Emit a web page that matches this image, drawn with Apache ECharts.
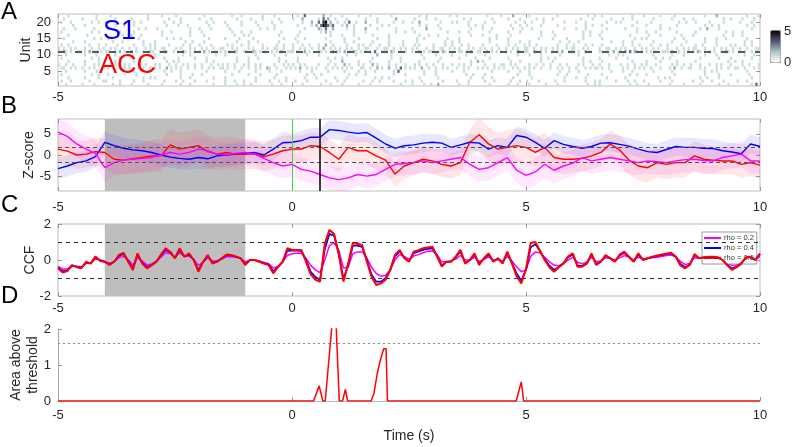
<!DOCTYPE html>
<html>
<head>
<meta charset="utf-8">
<script src="https://cdn.jsdelivr.net/npm/echarts@6/dist/echarts.min.js"></script>
<style>
  html, body { margin: 0; padding: 0; background: #fff; }
  #chart { width: 792px; height: 447px; }
</style>
</head>
<body>
<div id="chart"></div>
<script>
// ---- panel A: spike counts per unit, 0.05 s bins, top row = unit 22 ----
// each row: -5..0 s | 0..5 s | 5..10 s
const binW = 0.05;
const heatRows = [
  ["....1..... ......1... ..1....... ........1. ....1..... 1......... ..1....... ....1...1. .......1.. ..1.......",
   "..1..3.... ...2..1... .1......1. ...1...... ..1....... ....1..1.. .......1.. 1......... ...1.....1 ....2.....",
   ".1........ ...1...... ......1..1 ..1....... .....1.... 1......1.. ...1...... ......1... .2........ ....1....1"],
  ["..1....... 1.....1... ....1..... .1......1. .......1.. ..1....... 1....1.... ......1... ..1....1.. ....1.....",
   "1...2..... .1.3.2..1. ...1...... .1....1... ....2..... ..1....1.. .1........ ...1..1... .....1.... ..1....1..",
   "....1..1.. .1........ ...1....1. ......1... .1...1.... ....1..... ..1....1.. .1........ ....1..1.. ..1....1.."],
  [".1...1.... ....1..1.. 1......... ..1..1.... .....1...1 ..1....... ...1..1... .1......1. ....1..... .1...1....",
   "....1...2. .3.45.2..1 ..1.3..1.. .2....1... ...1...1.. .1..2..... ...1....1. 1....1.... ..1...1... .....1...1",
   "..1....1.. ......1... .1...1.... ....1...1. 1......1.. ...1...... .....1..1. ..1.....1. ....1..... .1....1..."],
  ["......1... .1........ ....1...1. ..1....... ......1... .1...1.... ....1..... ..1.....1. .....1.... ..1.......",
   "..1.....1. 2.354313.. .1.2..1... ...1....1. .1........ ....1..1.. ..1....... .....1..1. .1........ ...1...1..",
   "1.....1... ...1...... .....1..1. ..1....... .....1.... .1.....1.. ....1..... ......1..1 ..1....... ....1..1.."],
  ["..1....1.. .....1.... .1........ ....1..1.. ..1....... ......1... 1....1.... ...1...... ......1..1 ..1.......",
   ".....1.... .21.3..2.. ...1..1... .2....1... ....1..... .1.....2.. ...1...... ......1... .1...1.... ....1...1.",
   "..1....... ......1... .1...1.... ....1..... ..1....1.. .......1.. .1........ ....1..2.. ..1....... ......1..."],
  [".1........ ....1..1.. ......1... ..1....... ....1...1. ......1... .1........ ....1...1. ..1....... .....1....",
   "...1...... ..1.2.1... ......1... .1........ ....1...1. ..1....... ......1... .1...1.... ....1..... ..1....1..",
   "......1... .1........ ....1..1.. ..1....... .......1.. .1...1.... ....1..... ..1....... .....1..1. ..1......."],
  ["....1..... ..1....... .......1.. .1...1.... ....1..... ......1... ..1....... .....1...1 .1........ ....1.....",
   "..1....... ......1... .1....1... ....1..... .1........ ....1...1. ..1....... ......1... .1.....1.. ...1......",
   "......1... ..1....... ....1..1.. .1........ ....1..... ..1....1.. ......1... .1........ ....1...1. ..1......."],
  ["..1....... .....1..1. .1........ ....1..... ......1..1 ..1....... ....1..... .1.....1.. ...1...... ......1...",
   ".1...1.... ....1..... ..1.....1. ......1... .1........ ...1..1... ......1... .1........ ....1..1.. ..1.......",
   ".....1.... .1.....1.. ....1..... ..1....... ......1..1 .1........ ...1...1.. ......1... .1...1.... ....1....."],
  ["......1... .1........ ...1...1.. ......1... .1........ ....1..1.. ..1....... ......1... .1...1.... ....1.....",
   "..1....... ......1... ..1...1... ....1..... .1.....1.. ...1...... .....1..1. .1........ ....1..... ..1....1..",
   ".1........ ....1...1. ..1....... ......1... .1...1.... ....1..... ..1.....1. ......1... .1........ ...1..1..."],
  [".1..1..... ...1...1.. 1....1.... ..1...1..1 .1.....1.. ...1..1... 1....1.... ..1.1...1. .1.....1.. ...1..1...",
   "1...1..1.. .1..2..1.. ...1....1. 1..1...1.. .1.....1.. ..1.1..... 1....1..1. ..1..1.... .1.....1.. ..1..1...1",
   ".1..1..... ...1...1.. 1....1..1. ..1....... .1...1..1. ...1...1.. 1.....1... ..1..1.... .1.....1.1 ...1..1..."],
  ["1.1..1.1.. .1..1..1.1 ..1.1..1.. 1..1...1.1 .1..11.... 1.1...1.1. .1.1..1..1 1...1.1... .1.1...1.1 ..11..1...",
   "1..1.1..1. .1.2..1.1. 1..1.1..1. .11...1..1 1..1..1.1. .1.1...1.. 1..11..1.1 .1...1.1.. 1.1..1..1. .1..1.1..1",
   "1..1..1.1. .1.1...1.1 1...1.1... .1..11..1. 1.1...1..1 .1..1.1... 1...1..1.1 .11...1... 1..1.1..1. .1..1...11"],
  ["1.21.1..11 .1.2.11.1. 11..1.2.1. .2.1..1.11 1..1.21..1 .1.21.1.1. 1.2.1..1.1 .1.1.21..1 1..21.1.1. .1.1.2..11",
   "1.1..2.1.. .11.1..2.1 1.2.1.21.1 .1.1.3..11 1.21..1.1. .1..2.1.11 1.1.21..1. .11.1.2..1 1..2.1.1.1 .1.1..21.1",
   "1..21.1.1. .1.1.2..11 1.1..2.1.. .11.1..2.1 1.2.3.21.1 .1.1.1..11 1.2..1.1.1 .1.21.1.1. 1..1.21.1. .1.1..1.11"],
  ["...1...... .1....1... ....1..... ......1... .1........ ...1..1... .......1.. .1........ ....1..... ..1....1..",
   "......1... .1........ ...1...1.. ......2... ..1....... .....1.... .1......1. ....1..... ..1....... ......1...",
   ".1....1... ....1..... ..1....... .....1...1 .1........ ....1..... ..1....1.. ......1... .1........ ...1...1.."],
  [".1........ ....1..1.. ......1... ..1....... .....1.... .1......1. ...1...... ......1... .1...1.... ....1.....",
   "..1....... .....1..1. .1........ ....1..... ..1...1... ......1... ...1...... .1......1. ....1..... ..1.......",
   "......1..1 ..1....... ....1..... .1......1. ...1...... .....1..1. .1........ ....1..... ..1....1.. ......1..."],
  ["....1..... .1.....1.. ....1..... ..1....... ......1..1 .1........ ...1..1... ......1... .1........ ....1..1..",
   "..1....... ......1... .2......1. ...1...... .1....1... ....1..... ..1....... ......1..2 .1........ ...1...1..",
   "......1... .1........ ....1..1.. ..1....... .....1.... .1.....1.. ....1..... ..1....... ......1..1 ..1......."],
  ["1..1..1... .1...1.1.. ..1.1...1. 1...1..1.. .1.1...1.. 1..1.1..1. .1...1..1. 1.1..1...1 .1..1.1... ..1...1.1.",
   "1..1.1.... .1...1..1. ..2.1...1. 1...2.1... .1..1...1. ..1.1..1.. 1...1...1. .1.1..1... ..1...1..1 1..1.1....",
   ".1..1..1.. 1...1..1.. ..1.1...1. .1...1.... 1..1..1..1 .1...1.... ..1.1..1.. 1...1...1. .1.1...1.. ..1..1...1"],
  [".11..1.1.. 1..1.1...1 .1.1..1.1. 1...1.1..1 .1.1..2.1. 1.1..1..1. .1..1.1..1 1.1..1..1. .1..1.1..2 1..1...1.1",
   ".1.2..1.1. 1...1..1.1 .1.1.1...1 1..1..2.1. .2..1.3.1. 1.1..2..1. .1..1.1... 1..1.1...1 .1.1..1.1. 1...1.1..1",
   ".1.1..1... 1..1.1..1. .1...1.1.1 1.1..1.... .1.1..1.1. 1..1...1.. .1.2..1..1 1...1.1... .1.1..1..1 1..1...1.1"],
  ["...1...... .1....1... ....1..... ..1....... .....1..1. ..1....... ...1...... .1.....1.. ....1..... 1....1....",
   "...1....1. .....1.... ..1.....1. .1...1.... ...1.3.... ......1... .1......1. ...1...... .....1.... ..1....1..",
   ".1........ ....1...1. ..1....... ......1... .1...1.... ....1..... ..1....... ......1..1 .1........ ....1....."],
  [".1........ ....1..1.. .1........ ...1...... ......1... ..1....1.. .1........ ....1..... .1....1... ...1......",
   "......1..1 ..1....... ....1..1.. .1........ ...1....1. ......1... .1........ ....1..1.. ..1....... ......1...",
   ".1........ ...1...1.. ......1... ..1....... ....1..1.. .1........ ...1...... ......1... ..1....1.. .....1...."],
  ["....1..... .1.....1.. ...1...... ......1..1 .1........ ..1...1... ......1... .1........ ....1..... ..1....1..",
   ".....1.... 1.......1. ...1...... .....1..1. .1........ ....1..... ..1....... ......1... .1...1.... ....1.....",
   "..1....... ......1... .1...1.... ....1..... ..1....... ......1..1 .1........ ....1..1.. ..1....... ......1..."],
  [".1...1.... ...1.....1 1.....1... ..1...1... .....1.... 1..1....1. ...1...... .1...1...1 ....1..... 1...1..1..",
   ".1....1... ....1....1 ..1....... 1...1..1.. ...1....1. .1...1.... ....1..... 1....1.... ..1...1... ...1...1..",
   "1....1.... ..1...1... .....1...1 .1......1. ...1..1... 1......1.. ..1....... .1...1...1 ....1..... 1...1....."],
  ["...1...... 1....1.... ...1..1... .1......1. ....1..... ..1...1... ......1... .1....1..1 ..1....... .1...1....",
   "....1..... ..1...1... .1......1. ...1...... ......1... .1....1..1 ..2....... .1...1.... ....1..... ..1...1...",
   ".1......1. ...1...... ......1..1 .1........ ....1..1.. ..1....... .1.....1.. ....1..... ..1...1... ......1.3."]
];
const unitTicks = [5, 10, 15, 20];
const unitSplit = 11;

// ---- panel B: z-scored activity, 0.2 s steps from -5 s ----
const bStep = 0.2;
const zBlue = [
  -3.2, -2.6, -1.8, -1.4, -0.4, 3.0, 2.2, 1.6, 1.2, 1.0,
  0.6, 0.0, -0.5, -0.8, -1.0, -0.6, -0.9, -0.2, 0.0, 0.2,
  0.35, 0.6, 0.0, 1.4, 2.9, 3.0, 3.4, 4.2, 4.2, 6.0,
  5.8, 5.4, 5.1, 5.3, 4.0, 2.6, 1.6, 2.2, 2.4, 2.8,
  3.0, 2.8, 1.8, 2.4, 3.0, 2.8, 1.4, 2.2, 1.8, 4.6,
  4.2, 3.0, 1.6, 3.4, 2.5, 2.0, 1.6, 2.0, 2.8, 2.9,
  2.5, 2.1, 1.4, 0.8, 0.6, 1.3, 2.0, 1.8, 1.8, 1.6,
  1.5, 1.0, 0.7, 0.3, 2.6, 2.0
];
const zRed = [
  1.4, 0.9, 0.0, 0.2, 0.8, 0.6, -1.0, -1.2, -0.9, -0.6,
  -0.2, -0.2, 2.4, 1.4, 1.8, 2.2, 0.8, 0.2, 0.6, 0.2,
  0.2, 0.2, -0.4, 0.2, 1.0, 1.4, 1.4, 2.2, 2.0, 0.6,
  -1.0, 1.8, 1.0, 1.0, -0.2, -1.2, -4.5, -2.6, -1.8, -1.0,
  -1.4, -2.2, -2.6, -1.8, 3.0, 4.8, 2.6, 1.4, 1.8, 2.2,
  1.8, 0.6, 1.8, -0.6, -1.0, -1.0, -0.8, -0.2, 0.6, 2.6,
  1.2, -1.2, -2.6, -3.0, -1.8, -2.2, -1.8, -1.8, -0.2, -1.0,
  -1.2, -1.4, -1.4, -2.2, -1.8, -2.4
];
const zMagenta = [
  5.4, 4.4, 2.6, 1.4, 0.4, -3.0, -1.8, -1.2, -1.0, -0.8,
  -0.6, 0.0, 0.6, 0.2, 0.6, 1.4, 1.0, 0.2, 0.0, 0.4,
  0.6, 0.2, -0.8, -1.8, -2.6, -2.2, -3.4, -3.8, -4.6, -5.4,
  -5.8, -5.4, -4.6, -5.0, -4.6, -3.4, -2.2, -2.0, -1.8, -1.4,
  -1.8, -1.4, -1.0, -0.6, -2.2, -3.4, -3.0, -1.8, -0.6, -3.6,
  -4.8, -4.0, -2.2, -3.6, -2.6, -1.9, -0.6, -1.4, -1.0, -0.6,
  -1.0, -1.4, -1.8, -1.4, -1.6, -1.8, -1.4, -1.1, -1.0, -1.3,
  -1.4, -0.6, -0.2, 0.2, -1.4, -1.4
];
// spread of each trace, one value per second (-5 .. 10)
const sdBlue = [2.5, 2.5, 2.5, 2.5, 2.5, 2.2, 2.2, 2.2, 2.0, 2.0, 2.0, 2.0, 2.0, 2.2, 2.2, 2.2];
const sdRed = [3.2, 3.5, 3.8, 3.8, 3.5, 3.2, 3.2, 3.0, 3.0, 4.0, 3.5, 3.2, 3.5, 3.5, 3.2, 3.2];
const sdMagenta = [3.2, 3.2, 3.0, 3.0, 3.0, 2.8, 2.8, 2.8, 2.8, 3.0, 3.2, 3.0, 3.0, 3.0, 3.0, 3.0];
const zThresh = [1.8, -1.8];
const baselineWin = [-4, -1];
const eventTimes = [0, 0.6];

// ---- panel C: cross-correlation, 0.1 s steps from -5 s ----
const cStep = 0.1;
const ccf06 = [
  -0.46, -0.7, -0.62, -0.28, -0.4, -0.46, -0.1, -0.2, 0.2, -0.05,
  -0.1, -0.28, -0.1, 0.28, 0.4, -0.1, -0.55, 0.37, -0.2, -0.46,
  -0.3, -0.1, 0.3, 0.65, 0.46, 0.1, 0.65, 0.18, 0.37, 0.0,
  -0.65, -0.1, 0.28, -0.2, -0.1, 0.1, 0.3, 0.28, 0.2, 0.1,
  -0.28, 0.0, 0.0, -0.1, -0.2, -0.28, -0.74, -0.4, -0.1, 0.65,
  0.56, 0.56, 0.56, -0.1, -0.8, -1.1, -1.2, 0.9, 1.67, 1.45,
  0.3, -1.2, -0.2, 0.96, 0.9, 0.83, -0.1, -0.93, -1.39, -1.3,
  -1.1, -0.55, 0.28, 0.56, 0.1, -0.1, 0.46, 0.55, 0.65, 0.7,
  0.74, 0.2, -0.37, -0.1, -0.1, 0.2, 0.56, -0.2, 0.0, 0.37,
  -0.28, 0.1, 0.37, -0.1, 0.1, -0.2, 0.46, -0.2, -0.9, -1.3,
  -0.5, 0.95, 1.0, 0.5, 0.0, -0.4, -0.65, -0.4, -0.2, 0.2,
  0.37, -0.37, -0.37, -0.2, 0.37, -0.28, -0.1, 0.28, 0.1, -0.1,
  0.3, 0.46, 0.18, -0.1, 0.37, 0.0, 0.1, 0.18, 0.25, 0.3,
  0.35, 0.4, 0.18, -0.3, -0.46, -0.28, 0.33, 0.1, 0.15, 0.18,
  0.18, 0.15, 0.0, -0.3, -0.55, -0.4, -0.2, 0.15, 0.18, 0.0,
  0.37
];
const ccf04 = [
  -0.42, -0.62, -0.58, -0.3, -0.38, -0.42, -0.14, -0.18, 0.14, -0.02,
  -0.1, -0.25, -0.1, 0.22, 0.34, -0.05, -0.45, 0.3, -0.15, -0.4,
  -0.28, -0.1, 0.25, 0.56, 0.42, 0.12, 0.56, 0.2, 0.3, 0.0,
  -0.55, -0.12, 0.22, -0.15, -0.08, 0.08, 0.26, 0.25, 0.18, 0.1,
  -0.22, 0.0, 0.0, -0.08, -0.18, -0.25, -0.62, -0.38, -0.1, 0.5,
  0.52, 0.52, 0.5, 0.0, -0.65, -0.95, -1.1, 0.6, 1.45, 1.35,
  0.35, -1.05, -0.3, 0.8, 0.8, 0.72, 0.0, -0.8, -1.2, -1.2,
  -1.0, -0.55, 0.2, 0.48, 0.12, -0.08, 0.38, 0.48, 0.56, 0.62,
  0.65, 0.22, -0.3, -0.1, -0.08, 0.15, 0.48, -0.15, 0.0, 0.3,
  -0.22, 0.08, 0.3, -0.08, 0.08, -0.15, 0.38, -0.15, -0.75, -1.15,
  -0.55, 0.7, 0.88, 0.5, 0.05, -0.32, -0.55, -0.38, -0.18, 0.15,
  0.3, -0.3, -0.32, -0.18, 0.3, -0.22, -0.08, 0.24, 0.1, -0.08,
  0.25, 0.4, 0.18, -0.08, 0.3, 0.02, 0.1, 0.16, 0.22, 0.27,
  0.32, 0.36, 0.18, -0.22, -0.4, -0.25, 0.28, 0.1, 0.13, 0.16,
  0.16, 0.13, 0.0, -0.25, -0.48, -0.36, -0.18, 0.12, 0.16, 0.0,
  0.32
];
const ccf02 = [
  -0.35, -0.5, -0.5, -0.35, -0.35, -0.38, -0.2, -0.15, 0.05, 0.0,
  -0.08, -0.18, -0.1, 0.12, 0.2, 0.02, -0.28, 0.12, -0.05, -0.28,
  -0.22, -0.08, 0.15, 0.4, 0.35, 0.15, 0.4, 0.2, 0.22, 0.05,
  -0.3, -0.12, 0.12, -0.05, -0.05, 0.05, 0.18, 0.2, 0.15, 0.1,
  -0.1, -0.02, 0.0, -0.05, -0.12, -0.2, -0.45, -0.35, -0.1, 0.25,
  0.35, 0.38, 0.38, 0.1, -0.3, -0.55, -0.7, 0.0, 0.8, 0.95,
  0.55, -0.45, -0.4, 0.35, 0.45, 0.45, 0.1, -0.4, -0.75, -0.9,
  -0.85, -0.55, 0.0, 0.3, 0.2, 0.05, 0.22, 0.3, 0.4, 0.48,
  0.5, 0.3, -0.1, -0.1, -0.05, 0.05, 0.25, 0.0, 0.0, 0.15,
  -0.08, 0.02, 0.18, 0.0, 0.02, -0.08, 0.2, -0.05, -0.38, -0.65,
  -0.55, 0.2, 0.45, 0.4, 0.15, -0.1, -0.28, -0.32, -0.2, 0.0,
  0.15, -0.12, -0.2, -0.12, 0.15, -0.08, -0.05, 0.12, 0.08, 0.0,
  0.12, 0.25, 0.15, 0.0, 0.15, 0.05, 0.08, 0.12, 0.15, 0.2,
  0.25, 0.28, 0.18, -0.08, -0.25, -0.2, 0.12, 0.1, 0.1, 0.12,
  0.12, 0.1, 0.02, -0.15, -0.3, -0.28, -0.15, 0.05, 0.1, 0.02,
  0.2
];
const ccfThresh = [1, -1];

// ---- panel D: area above threshold ----
const areaT = [-5, 0.46, 0.58, 0.66, 0.71, 0.86, 0.94, 1.01, 1.08, 1.14, 1.19, 1.69, 1.75, 1.82, 1.89, 1.96, 2.01, 2.04, 4.79, 4.9, 4.95, 10];
const areaV = [0, 0, 0.42, 0, 0, 2.2, 2.2, 0, 0, 0.32, 0, 0, 0.2, 0.75, 1.15, 1.45, 1.45, 0, 0, 0.53, 0, 0];
const areaThresh = 1.6;

// ------------------------------------------------------------------
const FONT = "'Liberation Sans', Arial, sans-serif";
const INK = '#262626';
const FRAME = '#bdbdbd';
const TICK = '#9a9a9a';

const heatCells = [];
heatRows.forEach((parts, k) => {
  const unit = heatRows.length - k;
  parts.join('').replace(/ /g, '').split('').slice(0, 300).forEach((c, i) => {
    if (c !== '.') heatCells.push([-5 + i * binW, unit, +c]);
  });
});
const bTime = zBlue.map((_, i) => +(-5 + i * bStep).toFixed(2));
const cTime = ccf06.map((_, i) => +(-5 + i * cStep).toFixed(2));
const pairs = (ts, vs) => ts.map((t, i) => [t, vs[i]]);

const grids = [14, 119, 224, 329].map((top, i) => ({
  left: 58, right: 32, top: top, height: 72, containLabel: false, outerBoundsMode: 'none',
  show: i < 3, borderColor: FRAME, borderWidth: 1
}));

const yRanges = [
  { min: 0.5, max: 22.5, ticks: unitTicks, name: 'Unit', gap: 23 },
  { min: -8.5, max: 8.5, ticks: [-5, 0, 5], name: 'Z-score', gap: 20 },
  { min: -2, max: 2, ticks: [-2, 0, 2], name: 'CCF', gap: 19 },
  { min: 0, max: 2, ticks: [0, 1, 2], name: 'Area above\nthreshold', gap: 16 }
];
const xMargins = [5, 10, 6, 8];

const xAxes = [], yAxes = [];
grids.forEach((g, i) => {
  const boxed = i < 3;
  xAxes.push({
    gridIndex: i, type: 'value', min: -5, max: 10, interval: 5,
    axisLine: { show: !boxed, onZero: false, lineStyle: { color: FRAME } },
    axisTick: { inside: true, length: 4, lineStyle: { color: TICK } },
    axisLabel: { color: INK, fontSize: 13, fontFamily: FONT, margin: xMargins[i] },
    splitLine: { show: false },
    name: i === 3 ? 'Time (s)' : '', nameLocation: 'middle', nameGap: 28, nameMoveOverlap: false,
    nameTextStyle: { color: INK, fontSize: 14, fontFamily: FONT }
  });
  xAxes.push({
    gridIndex: i, type: 'value', min: -5, max: 10, interval: 5, position: 'top', show: boxed,
    axisLine: { show: false, onZero: false }, axisLabel: { show: false }, splitLine: { show: false },
    axisTick: { inside: true, length: 4, lineStyle: { color: TICK } }
  });
  const r = yRanges[i];
  yAxes.push({
    gridIndex: i, type: 'value', min: r.min, max: r.max,
    axisLine: { show: !boxed, onZero: false, lineStyle: { color: '#a8a8a8' } },
    axisTick: { show: true, inside: true, length: 4, customValues: r.ticks, lineStyle: { color: TICK } },
    axisLabel: { color: INK, fontSize: 13, fontFamily: FONT, margin: 7, customValues: r.ticks },
    splitLine: { show: false },
    name: r.name, nameLocation: 'middle', nameGap: r.gap, nameRotate: 90, nameMoveOverlap: false,
    nameTextStyle: { color: INK, fontSize: 14, fontFamily: FONT, lineHeight: 17 }
  });
  yAxes.push({
    gridIndex: i, type: 'value', min: r.min, max: r.max, position: 'right', show: boxed,
    axisLine: { show: false, onZero: false }, axisLabel: { show: false }, splitLine: { show: false },
    axisTick: { show: true, inside: true, length: 4, customValues: r.ticks, lineStyle: { color: TICK } }
  });
});

function bandSeries(mean, sd, fill) {
  return {
    type: 'custom', xAxisIndex: 2, yAxisIndex: 2, z: 2, silent: true, clip: true,
    data: [[-5, 0]],
    renderItem: (params, api) => {
      const up = [], lo = [];
      bTime.forEach((t, i) => {
        const s = sd[Math.min(sd.length - 1, Math.floor(t + 5 + 1e-6))];
        up.push(api.coord([t, mean[i] + s]));
        lo.push(api.coord([t, mean[i] - s]));
      });
      return { type: 'polygon', shape: { points: up.concat(lo.reverse()) }, style: { fill: fill } };
    }
  };
}
function lineSeries(name, xi, data, color, width, z) {
  return {
    name: name, type: 'line', xAxisIndex: xi, yAxisIndex: xi, data: data,
    showSymbol: false, symbol: 'none', silent: true, z: z || 3,
    lineStyle: { color: color, width: width }, itemStyle: { color: color }
  };
}
function hLines(values, style) {
  return values.map(v => ({ yAxis: v, lineStyle: style }));
}
const boxArea = { silent: true, itemStyle: { color: '#bebebe' }, data: [[{ xAxis: baselineWin[0] }, { xAxis: baselineWin[1] }]] };

const series = [
  {
    type: 'custom', xAxisIndex: 0, yAxisIndex: 0, data: heatCells, silent: true, z: 2,
    encode: { x: 0, y: 1 },
    renderItem: (params, api) => {
      const t = api.value(0), u = api.value(1);
      const p0 = api.coord([t, u + 0.5]);
      const p1 = api.coord([t + binW, u - 0.5]);
      return {
        type: 'rect',
        shape: { x: p0[0], y: p0[1], width: p1[0] - p0[0], height: p1[1] - p0[1] },
        style: { fill: api.visual('color') }
      };
    }
  },
  {
    type: 'line', xAxisIndex: 0, yAxisIndex: 0, data: [], silent: true, z: 4,
    markLine: { symbol: 'none', silent: true, label: { show: false },
      data: hLines([unitSplit], { color: '#5a5a5a', width: 2, type: [7, 10] }) }
  },
  {
    type: 'line', xAxisIndex: 2, yAxisIndex: 2, data: [], silent: true, z: 1,
    markArea: boxArea
  },
  bandSeries(zBlue, sdBlue, 'rgba(40,40,255,0.11)'),
  bandSeries(zRed, sdRed, 'rgba(255,40,40,0.11)'),
  bandSeries(zMagenta, sdMagenta, 'rgba(255,40,255,0.11)'),
  {
    type: 'line', xAxisIndex: 2, yAxisIndex: 2, data: [], silent: true, z: 3,
    markLine: { symbol: 'none', silent: true, label: { show: false },
      data: hLines(zThresh, { color: '#555', width: 1, type: [4, 3] }).concat([
        { xAxis: eventTimes[0], lineStyle: { color: '#3fd43f', width: 1, type: 'solid' } },
        { xAxis: eventTimes[1], lineStyle: { color: '#000', width: 1.5, type: 'solid' } }
      ]) }
  },
  lineSeries('zBlue', 2, pairs(bTime, zBlue), '#0000ff', 1.4),
  lineSeries('zRed', 2, pairs(bTime, zRed), '#ff0000', 1.4),
  lineSeries('zMagenta', 2, pairs(bTime, zMagenta), '#ff00ff', 1.4),
  {
    type: 'line', xAxisIndex: 4, yAxisIndex: 4, data: [], silent: true, z: 1,
    markArea: boxArea,
    markLine: { symbol: 'none', silent: true, label: { show: false },
      data: hLines(ccfThresh, { color: '#333', width: 1, type: [4, 4] }) }
  },
  lineSeries('rho = 0.2', 4, pairs(cTime, ccf02), '#ff00ff', 1.5, 3),
  lineSeries('rho = 0.4', 4, pairs(cTime, ccf04), '#0000ff', 1.7, 4),
  lineSeries('rho = 0.6', 4, pairs(cTime, ccf06), '#ff0000', 2, 5),
  {
    type: 'line', xAxisIndex: 6, yAxisIndex: 6, data: [], silent: true, z: 1,
    markLine: { symbol: 'none', silent: true, label: { show: false },
      data: hLines([areaThresh], { color: '#8c8c8c', width: 1, type: [2, 3] }) }
  },
  lineSeries('area', 6, pairs(areaT, areaV), '#ff0000', 1.5)
];

const chart = echarts.init(document.getElementById('chart'), null, { renderer: 'canvas' });
chart.setOption({
  animation: false,
  backgroundColor: '#fff',
  textStyle: { fontFamily: FONT },
  grid: grids,
  xAxis: xAxes,
  yAxis: yAxes,
  visualMap: {
    type: 'continuous', min: 0, max: 5, dimension: 2, seriesIndex: 0,
    inRange: { color: ['#ffffff', '#a7c7c7', '#545474', '#000000'] },
    left: 770, top: 30, itemWidth: 10, itemHeight: 32, padding: 0,
    calculable: false, hoverLink: false, borderColor: '#9a9a9a', borderWidth: 1
  },
  legend: {
    data: ['rho = 0.2', 'rho = 0.4', 'rho = 0.6'],
    orient: 'vertical', left: 702, top: 232, padding: [2, 3, 2, 2], itemGap: 2,
    icon: 'rect', itemWidth: 17, itemHeight: 2,
    textStyle: { fontSize: 7.5, color: '#333', fontFamily: FONT, padding: [0, 0, 0, -2] },
    backgroundColor: '#fff', borderColor: '#9a9a9a', borderWidth: 1, selectedMode: false
  },
  graphic: [
    { type: 'text', x: 1, y: 12, style: { text: 'A', fontSize: 24, fontFamily: FONT, fill: '#000', verticalAlign: 'middle' } },
    { type: 'text', x: 1, y: 106, style: { text: 'B', fontSize: 24, fontFamily: FONT, fill: '#000', verticalAlign: 'middle' } },
    { type: 'text', x: 1, y: 205, style: { text: 'C', fontSize: 24, fontFamily: FONT, fill: '#000', verticalAlign: 'middle' } },
    { type: 'text', x: 1, y: 296, style: { text: 'D', fontSize: 24, fontFamily: FONT, fill: '#000', verticalAlign: 'middle' } },
    { type: 'text', x: 103, y: 32, z: 10, style: { text: 'S1', fontSize: 27, fontFamily: FONT, fill: '#0000ff', verticalAlign: 'middle' } },
    { type: 'text', x: 99, y: 66, z: 10, style: { text: 'ACC', fontSize: 27, fontFamily: FONT, fill: '#ff0000', verticalAlign: 'middle' } },
    { type: 'text', x: 784, y: 31, style: { text: '5', fontSize: 13, fontFamily: FONT, fill: INK, verticalAlign: 'middle' } },
    { type: 'text', x: 784, y: 62, style: { text: '0', fontSize: 13, fontFamily: FONT, fill: INK, verticalAlign: 'middle' } }
  ],
  series: series
});
</script>
</body>
</html>
